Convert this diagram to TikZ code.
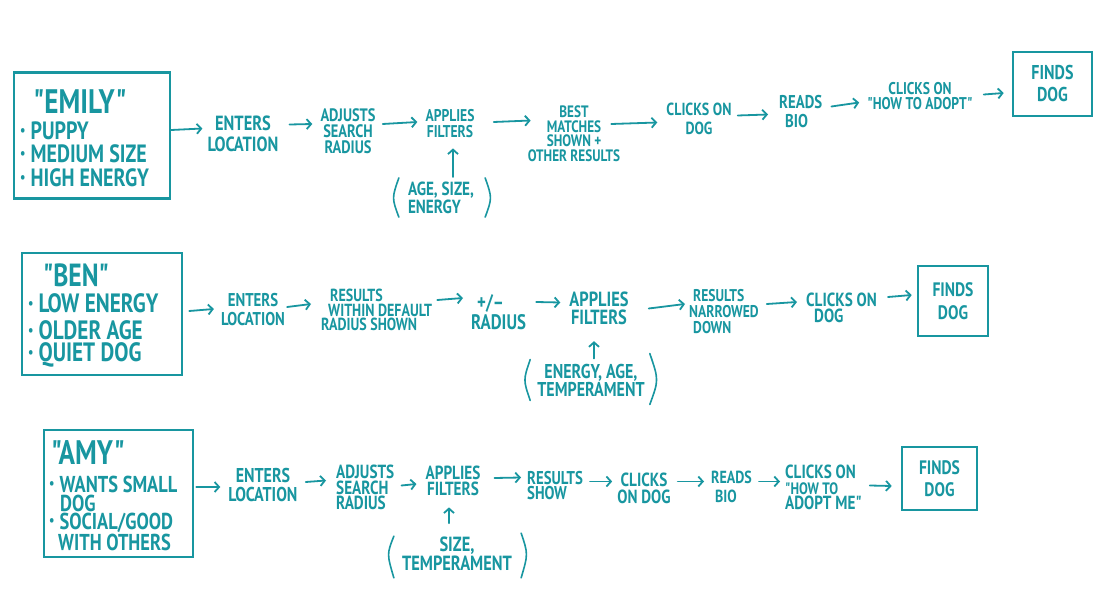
\documentclass[tikz,border=0pt]{standalone}
\usepackage{fontspec}
\setmainfont{PT Sans}[FakeStretch=0.8, Ligatures=TeXOff]
\usetikzlibrary{arrows.meta}
\definecolor{ink}{RGB}{24,150,160}
\newcommand\fsz[2]{\fontsize{#1pt}{#2pt}\selectfont\bfseries}
\newcommand\bul{\raisebox{0.16em}{\fontsize{15pt}{15pt}\selectfont\textbullet}\hspace{5pt}}
\tikzset{
  t/.style={text=ink, inner sep=0pt, align=center},
  pbox/.style={draw=ink, line width=2.6pt, inner sep=0pt},
  fbox/.style={draw=ink, line width=2.6pt, inner sep=0pt, align=center, text=ink},
  arr/.style={draw=ink, line width=1.8pt, line cap=round, -{Straight Barb[length=4.5pt,width=10pt]}},
  paren/.style={draw=ink, line width=1.6pt, line cap=round}
}
\begin{document}
\begin{tikzpicture}[x=1pt,y=-1pt]
\useasboundingbox[fill=white] (0,0) rectangle (1116,612);

% ---------------- Row 1 : Emily ----------------
\node[pbox, minimum width=156pt, minimum height=126pt] (emily) at (92,135.5) {};
\node[t, font=\fsz{34}{34}] (emilyname) at (80,102) {"EMILY"};
\node[t, anchor=west, font=\fsz{25}{26}] (e1) at (20,131) {\bul PUPPY};
\node[t, anchor=west, font=\fsz{25}{26}] (e2) at (20,154) {\bul MEDIUM SIZE};
\node[t, anchor=west, font=\fsz{25}{26}] (e3) at (20,178) {\bul HIGH ENERGY};

\node[t, font=\fsz{20.5}{21}] (r1a) at (243,133.5) {ENTERS\\LOCATION};
\node[t, font=\fsz{18}{16}] (r1b) at (348,131) {ADJUSTS\\SEARCH\\RADIUS};
\node[t, font=\fsz{17}{16}] (r1c) at (450,124) {APPLIES\\FILTERS};
\node[t, align=left, font=\fsz{19}{18}] (r1f) at (441,198) {AGE, SIZE,\\ENERGY};
\node[t, font=\fsz{16.5}{14.5}] (r1d) at (574,133.5) {BEST\\MATCHES\\SHOWN +\\OTHER RESULTS};
\node[t, font=\fsz{17.5}{19}] (r1e) at (699,118.5) {CLICKS ON\\DOG};
\node[t, anchor=west, align=left, font=\fsz{18.5}{19}] (r1g) at (779,111.5) {READS\\\hspace*{6pt}BIO};
\node[t, font=\fsz{17}{15}] (r1h) at (920,96.5) {CLICKS ON\\"HOW TO ADOPT"};
\node[fbox, font=\fsz{20}{22}, minimum width=79pt, minimum height=64pt] (r1i) at (1052.5,84) {FINDS\\DOG};

\draw[arr] ([shift={(0,-5.5)}]emily.east) -- ([shift={(-5,-5)}]r1a.west);
\draw[arr] ([shift={(11,-9)}]r1a.east) -- ([shift={(-8,-7)}]r1b.west);
\draw[arr] ([shift={(7,-7)}]r1b.east) -- ([shift={(-8,-2)}]r1c.west);
\draw[arr] ([shift={(19,-2)}]r1c.east) -- ([shift={(3,-13)}]r1d.west);
\draw[arr] ([shift={(-9,-9.5)}]r1d.east) -- ([shift={(-9,4)}]r1e.west);
\draw[arr] ([shift={(6,-3)}]r1e.east) -- ([shift={(-11,3)}]r1g.west);
\draw[arr] ([shift={(9,-5)}]r1g.east) -- ([shift={(-8,6)}]r1h.west);
\draw[arr] ([shift={(11,-2)}]r1h.east) -- ([shift={(-8,9)}]r1i.west);
\draw[arr] ([shift={(12,-5)}]r1f.north) -- ([shift={(3,10)}]r1c.south);
\draw[paren] ([shift={(-9,-4)}]r1f.north west) .. controls ([shift={(-16,0)}]r1f.west) .. ([shift={(-9,3)}]r1f.south west);
\draw[paren] ([shift={(11,-4)}]r1f.north east) .. controls ([shift={(18,0)}]r1f.east) .. ([shift={(11,3)}]r1f.south east);

% ---------------- Row 2 : Ben ----------------
\node[pbox, minimum width=160pt, minimum height=122pt] (ben) at (102,314) {};
\node[t, font=\fsz{32}{32}] (benname) at (76,275) {"BEN"};
\node[t, anchor=west, font=\fsz{26.5}{27}] (b1) at (28,303) {\bul LOW ENERGY};
\node[t, anchor=west, font=\fsz{26.5}{27}] (b2) at (28,330) {\bul OLDER AGE};
\node[t, anchor=west, font=\fsz{26.5}{27}] (b3) at (28,355) {\bul QUIET DOG};

\node[t, font=\fsz{18.5}{19}] (r2a) at (253,310) {ENTERS\\LOCATION};
\node[t, anchor=west, align=left, font=\fsz{17.5}{14.5}] (r2b) at (321,310) {\hspace*{9pt}RESULTS\\\hspace*{7pt}WITHIN DEFAULT\\RADIUS SHOWN};
\node[t, anchor=west, align=left, font=\fsz{21}{20}] (r2c) at (471,312) {\hspace*{6pt}+/–\\RADIUS};
\node[t, font=\fsz{20.5}{18}] (r2d) at (599,308.5) {APPLIES\\FILTERS};
\node[t, font=\fsz{20}{17}] (r2f) at (591,380) {ENERGY, AGE,\\TEMPERAMENT};
\node[t, anchor=west, align=left, font=\fsz{17}{16}] (r2e) at (689,312) {\hspace*{4pt}RESULTS\\NARROWED\\\hspace*{4pt}DOWN};
\node[t, anchor=west, align=left, font=\fsz{19}{16.5}] (r2g) at (806,308) {CLICKS ON\\\hspace*{8pt}DOG};
\node[fbox, font=\fsz{19.5}{23}, minimum width=70pt, minimum height=70pt] (r2h) at (953,301) {FINDS\\DOG};

\draw[arr] ([shift={(6,-3)}]ben.east) -- ([shift={(-7,-1)}]r2a.west);
\draw[arr] ([shift={(2,-3)}]r2a.east) -- ([shift={(-10,-6)}]r2b.west);
\draw[arr] ([shift={(5,-10)}]r2b.east) -- ([shift={(-8,-14)}]r2c.west);
\draw[arr] ([shift={(10,-10)}]r2c.east) -- ([shift={(-9,-6)}]r2d.west);
\draw[arr] ([shift={(20,0)}]r2d.east) -- ([shift={(-4,-8)}]r2e.west);
\draw[arr] ([shift={(8,-8)}]r2e.east) -- ([shift={(-9,-6)}]r2g.west);
\draw[arr] ([shift={(11,-11)}]r2g.east) -- ([shift={(-5,-6)}]r2h.west);
\draw[arr] ([shift={(3,-5)}]r2f.north) -- ([shift={(-5,16)}]r2d.south);
\draw[paren] ([shift={(-7,-4)}]r2f.north west) .. controls ([shift={(-14,0)}]r2f.west) .. ([shift={(-7,4)}]r2f.south west);
\draw[paren] ([shift={(5,-10)}]r2f.north east) .. controls ([shift={(14,0)}]r2f.east) .. ([shift={(5,8)}]r2f.south east);

% ---------------- Row 3 : Amy ----------------
\node[pbox, minimum width=149pt, minimum height=127pt] (amy) at (118.5,493.5) {};
\node[t, font=\fsz{34}{34}] (amyname) at (88,453) {"AMY"};
\node[t, anchor=west, font=\fsz{23}{23}] (a1) at (49,484) {\bul WANTS SMALL};
\node[t, anchor=west, font=\fsz{23}{23}] (a2) at (60,503) {DOG};
\node[t, anchor=west, font=\fsz{23}{23}] (a3) at (49,523) {\bul SOCIAL/GOOD};
\node[t, anchor=west, font=\fsz{23}{23}] (a4) at (58,542) {WITH OTHERS};

\node[t, font=\fsz{20}{19}] (r3a) at (263,485) {ENTERS\\LOCATION};
\node[t, anchor=west, align=left, font=\fsz{19}{15.5}] (r3b) at (336,487.5) {ADJUSTS\\SEARCH\\RADIUS};
\node[t, font=\fsz{19}{16.5}] (r3c) at (453,481) {APPLIES\\FILTERS};
\node[t, font=\fsz{20.5}{17}] (r3f) at (457,554) {SIZE,\\TEMPERAMENT};
\node[t, anchor=west, align=left, font=\fsz{18.5}{15.5}] (r3d) at (527,485.5) {RESULTS\\SHOW};
\node[t, font=\fsz{19}{17}] (r3e) at (644,488.5) {CLICKS\\ON DOG};
\node[t, anchor=west, align=left, font=\fsz{17.5}{19}] (r3g) at (711,486.5) {READS\\\hspace*{4pt}BIO};
\node[t, anchor=west, align=left, font=\fsz{19}{15.5}] (r3h) at (785,487.5) {CLICKS ON\\{\fontsize{16.5pt}{15.5pt}\selectfont\bfseries "HOW TO}\\ADOPT ME"};
\node[fbox, font=\fsz{19.5}{22}, minimum width=75pt, minimum height=63pt] (r3i) at (939.5,478.5) {FINDS\\DOG};

\draw[arr] ([shift={(2,-6.5)}]amy.east) -- ([shift={(-8,2)}]r3a.west);
\draw[arr] ([shift={(8,-3)}]r3a.east) -- ([shift={(-10,-7)}]r3b.west);
\draw[arr] ([shift={(7,-2)}]r3b.east) -- ([shift={(-9,3)}]r3c.west);
\draw[arr] ([shift={(14,-3)}]r3c.east) -- ([shift={(-6,-8)}]r3d.west);
\draw[arr] ([shift={(7,-4)}]r3d.east) -- ([shift={(-5,-7)}]r3e.west);
\draw[arr] ([shift={(7,-7)}]r3e.east) -- ([shift={(-7,-5)}]r3g.west);
\draw[arr] ([shift={(7,-5)}]r3g.east) -- ([shift={(-5,-6)}]r3h.west);
\draw[arr] ([shift={(8,-2)}]r3h.east) -- ([shift={(-9,7.5)}]r3i.west);
\draw[arr] ([shift={(-8,-14)}]r3f.north) -- ([shift={(-4,11)}]r3c.south);
\draw[paren] ([shift={(-8,-1)}]r3f.north west) .. controls ([shift={(-15,0)}]r3f.west) .. ([shift={(-8,7)}]r3f.south west);
\draw[paren] ([shift={(9,-4)}]r3f.north east) .. controls ([shift={(16,0)}]r3f.east) .. ([shift={(9,7)}]r3f.south east);
\end{tikzpicture}
\end{document}
